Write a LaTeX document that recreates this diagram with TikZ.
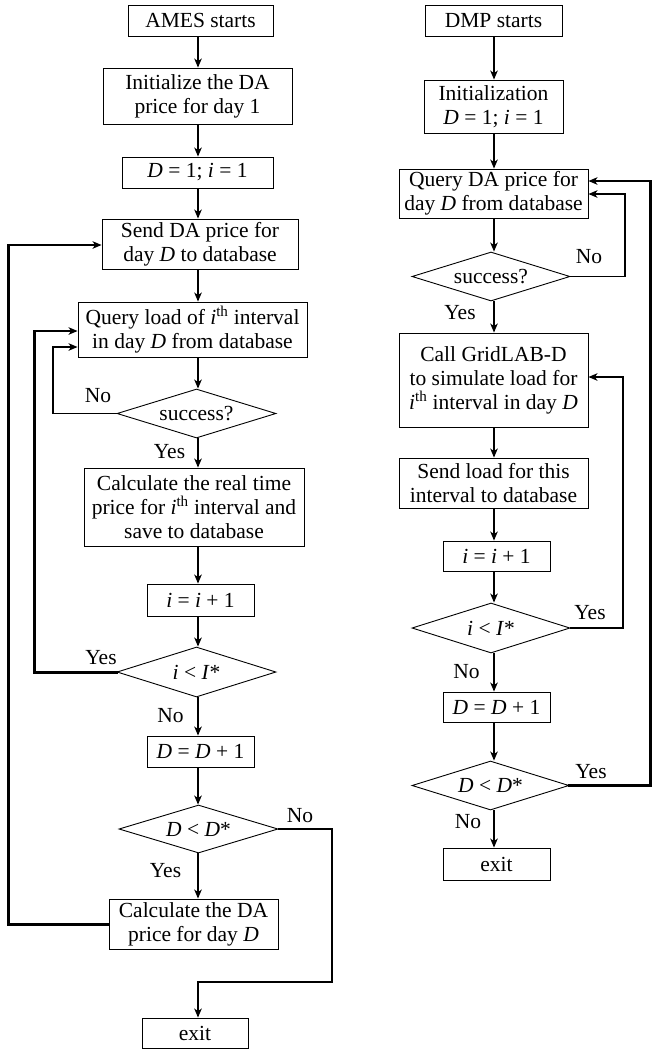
\documentclass[tikz,border=0pt]{standalone}
\usepackage{fontspec}
\setmainfont{Liberation Serif}
\usetikzlibrary{shapes.geometric,arrows.meta}
\begin{document}
\begin{tikzpicture}[x=1pt,y=-1pt,
  font=\fontsize{21.5}{24}\selectfont,
  box/.style={draw, line width=0.9pt, inner sep=0pt, align=center},
  dia/.style={draw, line width=0.9pt, diamond, aspect=3.2, inner sep=0pt},
  sz/.style 2 args={minimum width=#1pt, minimum height=#2pt},
  arr/.style={line width=1.4pt, -{Stealth[length=9pt,width=7.5pt,inset=2.5pt]}},
  fbk/.style={line width=3pt, line cap=rect},
  lbl/.style={inner sep=0pt}]
\useasboundingbox (0,0) rectangle (652,1053);
\coordinate (cl) at (198,0);
\coordinate (cr) at (494,0);
% ---------------- left column ----------------
\node[box, sz={145}{31}] (ames) at (200.5,20.5) {AMES starts};
\node[box, sz={189}{56}] (init1) at (197.5,96) {Initialize the DA\\price for day 1};
\node[box, sz={151}{31}] (d1) at (197.5,172.5) {\textit{D} = 1; \textit{i} = 1};
\node[box, sz={196}{50}] (send) at (200,244) {Send DA price for\\day \textit{D} to database};
\node[box, sz={229}{55}] (qload) at (192.5,329.5) {Query load of \textit{i}\textsuperscript{th} interval\\in day \textit{D} from database};
\node[dia, sz={159}{49}] (succ1) at (196.5,413.5) {success?};
\node[box, sz={220}{78}] (calcrt) at (194,507) {Calculate the real time\\price for \textit{i}\textsuperscript{th} interval and\\save to database};
\node[box, sz={107}{32}] (inc1) at (200.5,600) {\textit{i} = \textit{i} + 1};
\node[dia, sz={159}{50}] (ilt1) at (196.5,672) {\textit{i} < \textit{I}*};
\node[box, sz={107}{31}] (dinc1) at (200.5,751.5) {\textit{D} = \textit{D} + 1};
\node[dia, sz={159}{48}] (dlt1) at (198.5,829) {\textit{D} < \textit{D}*};
\node[box, sz={169}{50}] (calcda) at (193.5,924) {Calculate the DA\\price for day \textit{D}};
\node[box, sz={106}{30}] (exit1) at (195,1033) {exit};
% left labels
\node[lbl] (l1) at (98,396) {No};
\node[lbl] (l2) at (169.5,452) {Yes};
\node[lbl] (l3) at (101,658) {Yes};
\node[lbl] (l4) at (170.5,716) {No};
\node[lbl] (l5) at (300,816) {No};
\node[lbl] (l6) at (165.5,871) {Yes};
% left straight arrows
\draw[arr] (ames.south -| cl) -- (init1.north -| cl);
\draw[arr] (init1.south -| cl) -- (d1.north -| cl);
\draw[arr] (d1.south -| cl) -- (send.north -| cl);
\draw[arr] (send.south -| cl) -- (qload.north -| cl);
\draw[arr] (qload.south -| cl) -- (succ1.north -| cl);
\draw[arr] (succ1.south -| cl) -- (calcrt.north -| cl);
\draw[arr] (calcrt.south -| cl) -- (inc1.north -| cl);
\draw[arr] (inc1.south -| cl) -- (ilt1.north -| cl);
\draw[arr] (ilt1.south -| cl) -- (dinc1.north -| cl);
\draw[arr] (dinc1.south -| cl) -- (dlt1.north -| cl);
\draw[arr] (dlt1.south -| cl) -- (calcda.north -| cl);
% left loops
\coordinate (fa) at (8,245);
\draw[fbk] (calcda.west) -- (calcda.west -| fa) -- (fa);
\draw[arr] (fa) -- (fa -| send.west);
\coordinate (fb) at (34,331);
\draw[fbk] (ilt1.west) -- (ilt1.west -| fb) -- (fb);
\draw[arr] (fb) -- (fb -| qload.west);
\coordinate (fc) at (53,347);
\draw[arr] (succ1.west) -- (succ1.west -| fc) -- (fc) -- (fc -| qload.west);
\coordinate (fd) at (332,982);
\draw[arr] (dlt1.east) -- (dlt1.east -| fd) -- (fd) -- (fd -| cl) -- (exit1.north -| cl);
% ---------------- right column ----------------
\node[box, sz={137}{31}] (dmp) at (493.5,20.5) {DMP starts};
\node[box, sz={139}{53}] (init2) at (493.5,106.5) {Initialization\\\textit{D} = 1; \textit{i} = 1};
\node[box, sz={189}{49}] (qda) at (493.5,193.5) {Query DA price for\\day \textit{D} from database};
\node[dia, sz={158}{49}] (succ2) at (491,276.5) {success?};
\node[box, sz={189}{94}] (call) at (493.5,380) {Call GridLAB-D\\to simulate load for\\\textit{i}\textsuperscript{th} interval in day \textit{D}};
\node[box, sz={189}{50}] (sendl) at (493.5,483) {Send load for this\\interval to database};
\node[box, sz={107}{30}] (inc2) at (496.5,556) {\textit{i} = \textit{i} + 1};
\node[dia, sz={158}{50}] (ilt2) at (491,628) {\textit{i} < \textit{I}*};
\node[box, sz={107}{30}] (dinc2) at (496.5,707) {\textit{D} = \textit{D} + 1};
\node[dia, sz={157}{49}] (dlt2) at (490.5,785.5) {\textit{D} < \textit{D}*};
\node[box, sz={107}{32}] (exit2) at (496.5,864) {exit};
% right labels
\node[lbl] (r1) at (589,257) {No};
\node[lbl] (r2) at (460,313) {Yes};
\node[lbl] (r3) at (590,613) {Yes};
\node[lbl] (r4) at (466.5,672) {No};
\node[lbl] (r5) at (591,772) {Yes};
\node[lbl] (r6) at (468,822) {No};
% right straight arrows
\draw[arr] (dmp.south -| cr) -- (init2.north -| cr);
\draw[arr] (init2.south -| cr) -- (qda.north -| cr);
\draw[arr] (qda.south -| cr) -- (succ2.north -| cr);
\draw[arr] (succ2.south -| cr) -- (call.north -| cr);
\draw[arr] (call.south -| cr) -- (sendl.north -| cr);
\draw[arr] (sendl.south -| cr) -- (inc2.north -| cr);
\draw[arr] (inc2.south -| cr) -- (ilt2.north -| cr);
\draw[arr] (ilt2.south -| cr) -- (dinc2.north -| cr);
\draw[arr] (dinc2.south -| cr) -- (dlt2.north -| cr);
\draw[arr] (dlt2.south -| cr) -- (exit2.north -| cr);
% right loops
\coordinate (ga) at (625,194);
\draw[arr] (succ2.east) -- (succ2.east -| ga) -- (ga) -- (ga -| qda.east);
\coordinate (gb) at (623,377);
\draw[arr] (ilt2.east) -- (ilt2.east -| gb) -- (gb) -- (gb -| call.east);
\coordinate (gc) at (650.5,181);
\draw[fbk] (dlt2.east) -- (dlt2.east -| gc) -- (gc);
\draw[arr] (gc) -- (gc -| qda.east);
\end{tikzpicture}
\end{document}
